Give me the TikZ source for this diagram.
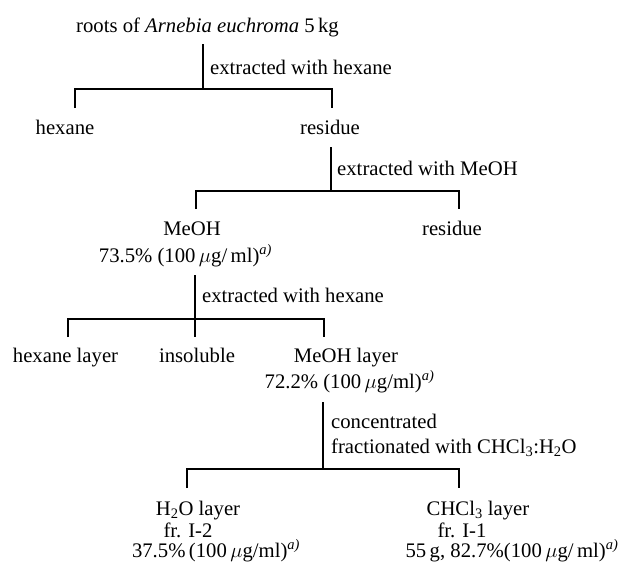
\documentclass[tikz,border=0pt]{standalone}
\usepackage{fontspec}
\setmainfont{Liberation Serif}
\begin{document}
\begin{tikzpicture}[x=1pt,y=-1pt,
  txt/.style={inner sep=0pt,anchor=base,font=\fontsize{20.7}{24}\selectfont},
  lbl/.style={txt,anchor=base west},
  branch/.style={line width=1.3pt,line join=miter}]
\useasboundingbox (0,0) rectangle (623,566);
\newcommand{\ug}{$\mu$g}
\newcommand{\refa}{\textsuperscript{\textit{a)}}}

% --- step 1: hexane extraction of the roots
\node[txt] (roots) at (207.5,32) {roots of \textit{Arnebia euchroma} 5\,kg};
\node[lbl] (s1) at (210,74) {extracted with hexane};
\node[txt] (hex1) at (65,134) {hexane};
\node[txt] (res1) at (330,134) {residue};
\coordinate (t1) at (203,44);
\coordinate (j1) at (203,89);
\coordinate (b1l) at (75,108);
\coordinate (b1r) at (332,108);
\draw[branch] (t1) -- (j1);
\draw[branch] (b1l) |- (j1) -| (b1r);

% --- step 2: MeOH extraction of the residue
\node[lbl] (s2) at (337,175) {extracted with MeOH};
\node[txt] (meoh) at (192,235) {MeOH};
\node[txt] (meohval) at (185.5,262) {73.5\% (100\,\ug/\,ml)\refa};
\node[txt] (res2) at (452,235) {residue};
\coordinate (t2) at (331,147);
\coordinate (j2) at (331,191);
\coordinate (b2l) at (196,209);
\coordinate (b2r) at (459,209);
\draw[branch] (t2) -- (j2);
\draw[branch] (b2l) |- (j2) -| (b2r);

% --- step 3: hexane partition of the MeOH extract
\node[lbl] (s3) at (202,302) {extracted with hexane};
\node[txt] (hexl) at (65.5,362) {hexane layer};
\node[txt] (insol) at (197,362) {insoluble};
\node[txt] (meohl) at (346,362) {MeOH layer};
\node[txt] (meohlval) at (349.5,388) {72.2\% (100\,\ug/ml)\refa};
\coordinate (t3) at (195,275);
\coordinate (j3) at (195,319);
\coordinate (b3m) at (195,337);
\coordinate (b3l) at (68,337);
\coordinate (b3r) at (324,337);
\draw[branch] (t3) -- (b3m);
\draw[branch] (b3l) |- (j3) -| (b3r);

% --- step 4: CHCl3 / H2O fractionation
\node[lbl] (s4a) at (331,428) {concentrated};
\node[lbl] (s4b) at (331,453) {fractionated with CHCl\textsubscript{3}:H\textsubscript{2}O};
\node[txt] (h2o) at (198,515) {H\textsubscript{2}O layer};
\node[txt] (fr2) at (188,537) {fr. I-2};
\node[txt] (fr2val) at (216,557) {37.5\%\,(100\,\ug/ml)\refa};
\node[txt] (chcl) at (478,515) {CHCl\textsubscript{3} layer};
\node[txt] (fr1) at (462,537) {fr. I-1};
\node[txt] (fr1val) at (512,557) {55\,g, 82.7\%(100\,\ug/\,ml)\refa};
\coordinate (t4) at (323,402);
\coordinate (j4) at (323,469);
\coordinate (b4l) at (187,488);
\coordinate (b4r) at (459,488);
\draw[branch] (t4) -- (j4);
\draw[branch] (b4l) |- (j4) -| (b4r);
\end{tikzpicture}
\end{document}
